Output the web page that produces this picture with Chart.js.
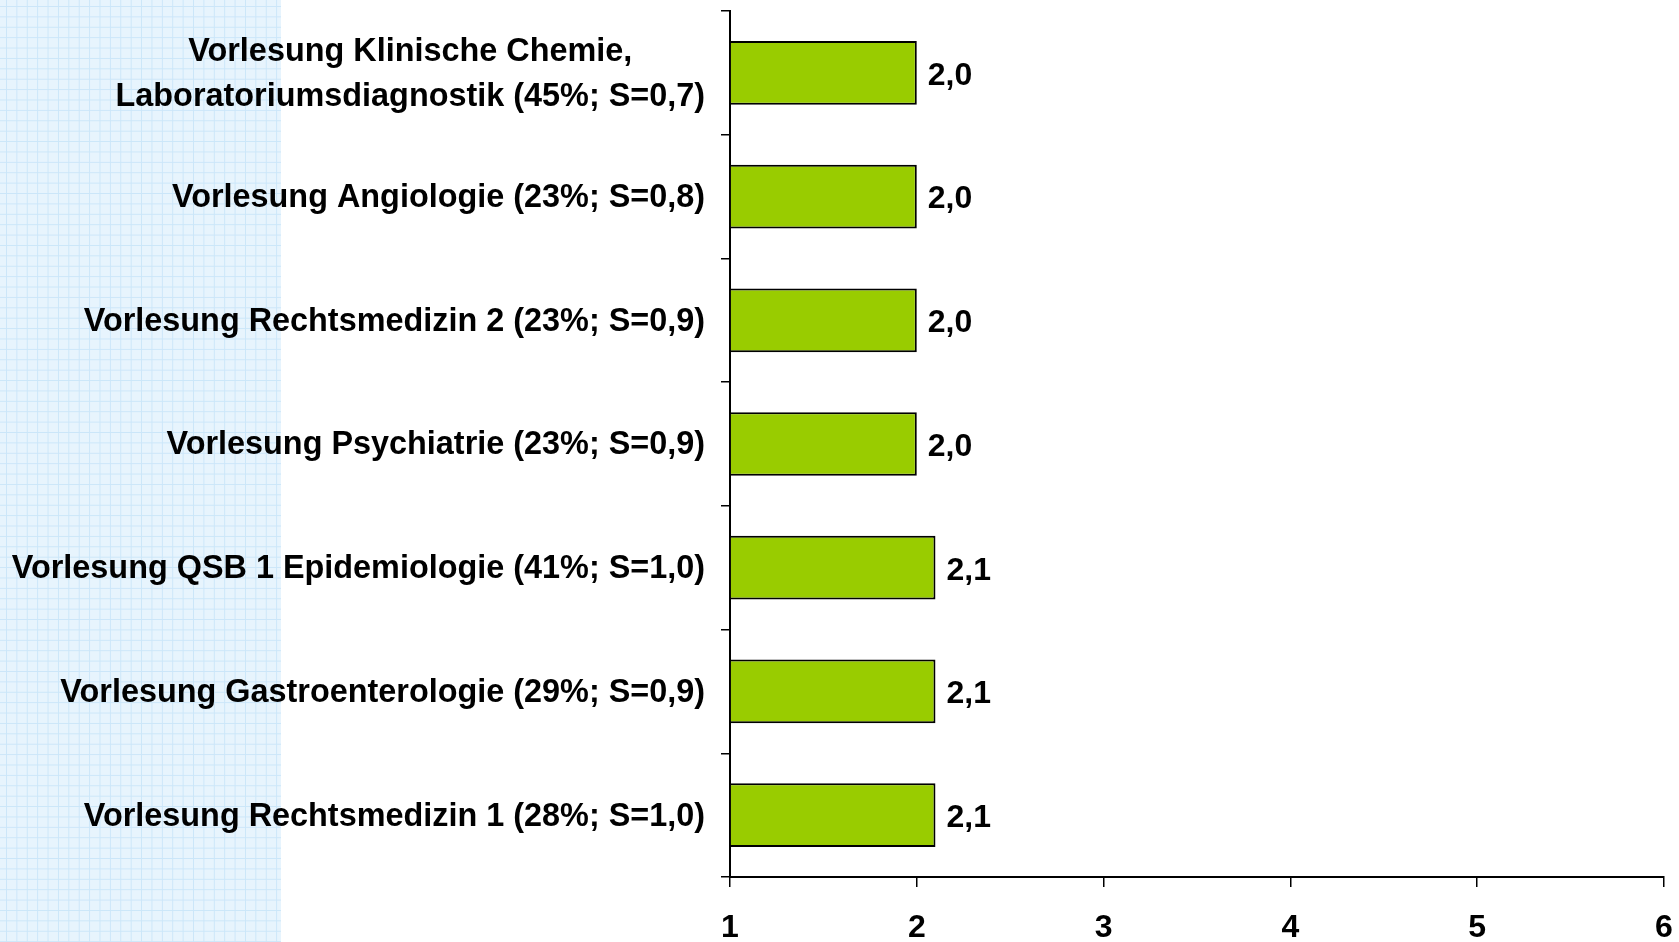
<!DOCTYPE html>
<html>
<head>
<meta charset="utf-8">
<script src="https://cdn.jsdelivr.net/npm/chart.js@4/dist/chart.umd.min.js"></script>
<style>
  html, body { margin: 0; padding: 0; background: #ffffff; }
  #wrap { position: relative; width: 1679px; height: 942px; overflow: hidden; }
  #panel {
    position: absolute; left: 0; top: 0; width: 281px; height: 942px;
    background-color: #e7f4fd;
    background-image:
      linear-gradient(to right, #cbe6f9 1px, transparent 1px),
      linear-gradient(to bottom, #cbe6f9 1px, transparent 1px);
    background-size: 10.4px 10.4px;
    background-position: 6px 6px;
  }
  canvas { position: absolute; left: 0; top: 0; }
</style>
</head>
<body>
<div id="wrap">
  <div id="panel"></div>
  <canvas id="c" width="1679" height="942"></canvas>
</div>
<script>
// ---- data ----
const categories = [
  ["Vorlesung Klinische Chemie,", "Laboratoriumsdiagnostik (45%; S=0,7)"],
  "Vorlesung Angiologie (23%; S=0,8)",
  "Vorlesung Rechtsmedizin 2 (23%; S=0,9)",
  "Vorlesung Psychiatrie (23%; S=0,9)",
  "Vorlesung QSB 1 Epidemiologie (41%; S=1,0)",
  "Vorlesung Gastroenterologie (29%; S=0,9)",
  "Vorlesung Rechtsmedizin 1 (28%; S=1,0)"
];
const values = [2.0, 2.0, 2.0, 2.0, 2.1, 2.1, 2.1];
const axisMin = 1;
const axisMax = 6;
const axisStep = 1;

const FONT = "'Liberation Sans', Arial, Helvetica, sans-serif";
const LABEL_FONT = "bold 32.4px " + FONT;
const LINE_H = 45;

// value labels to the right of each bar
const valueLabels = {
  id: 'valueLabels',
  afterDatasetsDraw(chart) {
    const ctx = chart.ctx;
    const meta = chart.getDatasetMeta(0);
    ctx.save();
    ctx.font = "bold 32px " + FONT;
    ctx.fillStyle = '#000';
    ctx.textAlign = 'left';
    ctx.textBaseline = 'middle';
    meta.data.forEach((bar, i) => {
      const txt = values[i].toFixed(1).replace('.', ',');
      ctx.fillText(txt, bar.x + 11, bar.y + 3);
    });
    ctx.restore();
  }
};

// category labels: block right-aligned to the axis, lines centred within the block
const categoryLabels = {
  id: 'categoryLabels',
  afterDraw(chart) {
    const ctx = chart.ctx;
    const ys = chart.scales.y;
    const right = ys.right - 9 - 16;
    ctx.save();
    ctx.font = LABEL_FONT;
    ctx.fillStyle = '#000';
    ctx.textAlign = 'center';
    ctx.textBaseline = 'middle';
    chart.data.labels.forEach((lab, i) => {
      const lines = Array.isArray(lab) ? lab : [lab];
      const w = Math.max(...lines.map(l => ctx.measureText(l).width));
      const cx = right - w / 2;
      const cy = ys.getPixelForValue(i);
      lines.forEach((l, j) => {
        const y = cy + (j - (lines.length - 1) / 2) * LINE_H + 1;
        ctx.save();
        ctx.translate(cx, y);
        ctx.scale(1, 1.05);
        ctx.fillText(l, 0, 0);
        ctx.restore();
      });
    });
    ctx.restore();
  }
};

function noPad(scale) {
  scale.paddingLeft = 0;
  scale.paddingRight = 0;
  scale.paddingTop = 0;
  scale.paddingBottom = 0;
}

new Chart(document.getElementById('c'), {
  type: 'bar',
  data: {
    labels: categories,
    datasets: [{
      data: values,
      base: axisMin,
      backgroundColor: '#99cc00',
      borderColor: '#000000',
      borderWidth: 2,
      borderSkipped: 'start',
      barPercentage: 0.515,
      categoryPercentage: 1.0
    }]
  },
  options: {
    indexAxis: 'y',
    responsive: false,
    animation: false,
    devicePixelRatio: 1,
    layout: { padding: { top: 11, right: 15, left: 0, bottom: 0 } },
    plugins: {
      legend: { display: false },
      tooltip: { enabled: false },
      title: { display: false }
    },
    scales: {
      y: {
        type: 'category',
        position: 'left',
        offset: true,
        grid: {
          offset: true,
          drawOnChartArea: false,
          drawTicks: true,
          tickLength: 9,
          color: '#000',
          lineWidth: 1.5
        },
        border: { display: true, color: '#000', width: 2 },
        ticks: { display: false },
        afterFit(scale) { scale.width = 730; noPad(scale); }
      },
      x: {
        type: 'linear',
        min: axisMin,
        max: axisMax,
        grid: {
          drawOnChartArea: false,
          drawTicks: true,
          tickLength: 10,
          color: '#000',
          lineWidth: 1.5
        },
        border: { display: true, color: '#000', width: 2 },
        ticks: {
          stepSize: axisStep,
          color: '#000',
          padding: 22,
          maxRotation: 0,
          font: { family: FONT, size: 32, weight: 'bold', lineHeight: 1.2 },
          callback: (v) => String(v)
        },
        afterFit(scale) { scale.height = 65; noPad(scale); }
      }
    }
  },
  plugins: [valueLabels, categoryLabels]
});
</script>
</body>
</html>
